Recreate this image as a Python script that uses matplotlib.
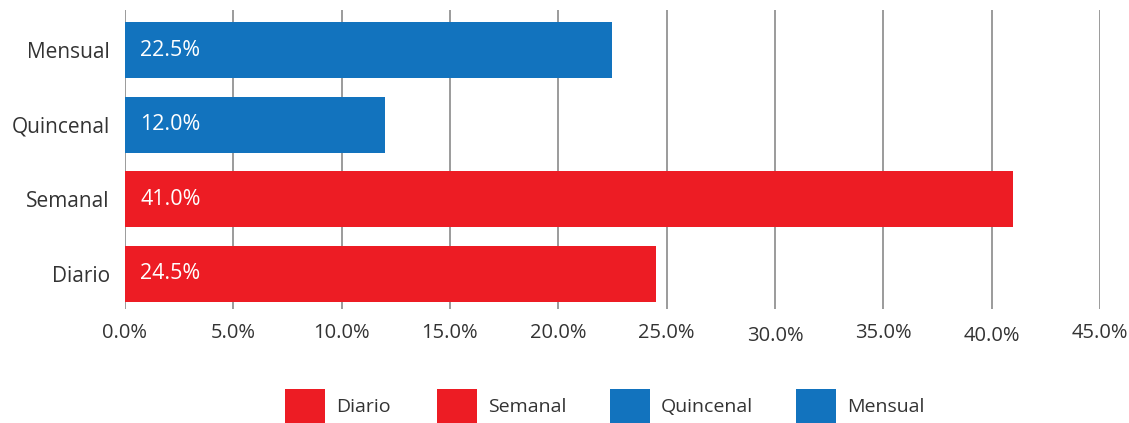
import matplotlib.pyplot as plt
from matplotlib.patches import Patch
from matplotlib.transforms import ScaledTranslation

plt.rcParams['font.family'] = ['Open Sans', 'DejaVu Sans']
plt.rcParams['text.color'] = '#333333'
plt.rcParams['xtick.color'] = '#333333'
plt.rcParams['ytick.color'] = '#333333'

categorias = ['Diario', 'Semanal', 'Quincenal', 'Mensual']
valores = [24.5, 41.0, 12.0, 22.5]
etiquetas = ['24.5%', '41.0%', '12.0%', '22.5%']
xticks = [0, 5, 10, 15, 20, 25, 30, 35, 40, 45]
xtick_labels = ['0.0%', '5.0%', '10.0%', '15.0%', '20.0%', '25.0%', '30.0%', '35.0%', '40.0%', '45.0%']

rojo = '#ED1C24'
azul = '#1273BE'
colores = [rojo, rojo, azul, azul]

fig = plt.figure(figsize=(11.29, 4.23), dpi=100)
ax = fig.add_axes([0.1107, 0.2702, 0.8636, 0.7062])

y = range(len(categorias))
ax.barh(y, valores, height=0.75, color=colores, zorder=3)

for i, v in enumerate(valores):
    ax.annotate(etiquetas[i], (0, i), xytext=(11, 0), textcoords='offset points',
                va='center', ha='left', color='white', fontsize=15.5, zorder=4)

ax.set_xlim(0, 45)
ax.set_ylim(-0.465, 3.536)
ax.set_xticks(xticks)
ax.set_xticklabels(xtick_labels, fontsize=14.5)
ax.set_yticks(list(y))
ax.set_yticklabels(categorias, fontsize=15)
ax.tick_params(axis='both', length=0)
ax.tick_params(axis='x', pad=10)
ax.tick_params(axis='y', pad=11)
ax.grid(axis='x', color='#8a8a8a', linewidth=1.2, zorder=1)
for s in ax.spines.values():
    s.set_visible(False)

# 30% y 40% aparecen un poco mas abajo en el original
for lbl in ax.get_xticklabels():
    if lbl.get_text() in ('30.0%', '40.0%'):
        lbl.set_transform(lbl.get_transform() + ScaledTranslation(0, -3 / 100, fig.dpi_scale_trans))

legend_x = [285, 437, 610, 796]
for i, c in enumerate(categorias):
    fig.legend(handles=[Patch(facecolor=colores[i], edgecolor='none', label=c)],
               loc='center left', bbox_to_anchor=(legend_x[i] / 1129, 1 - 406 / 423),
               frameon=False, fontsize=14, handlelength=2.06, handleheight=2.32,
               handletextpad=0.55, borderpad=0, borderaxespad=0)

fig.savefig('out.png', dpi=100)
